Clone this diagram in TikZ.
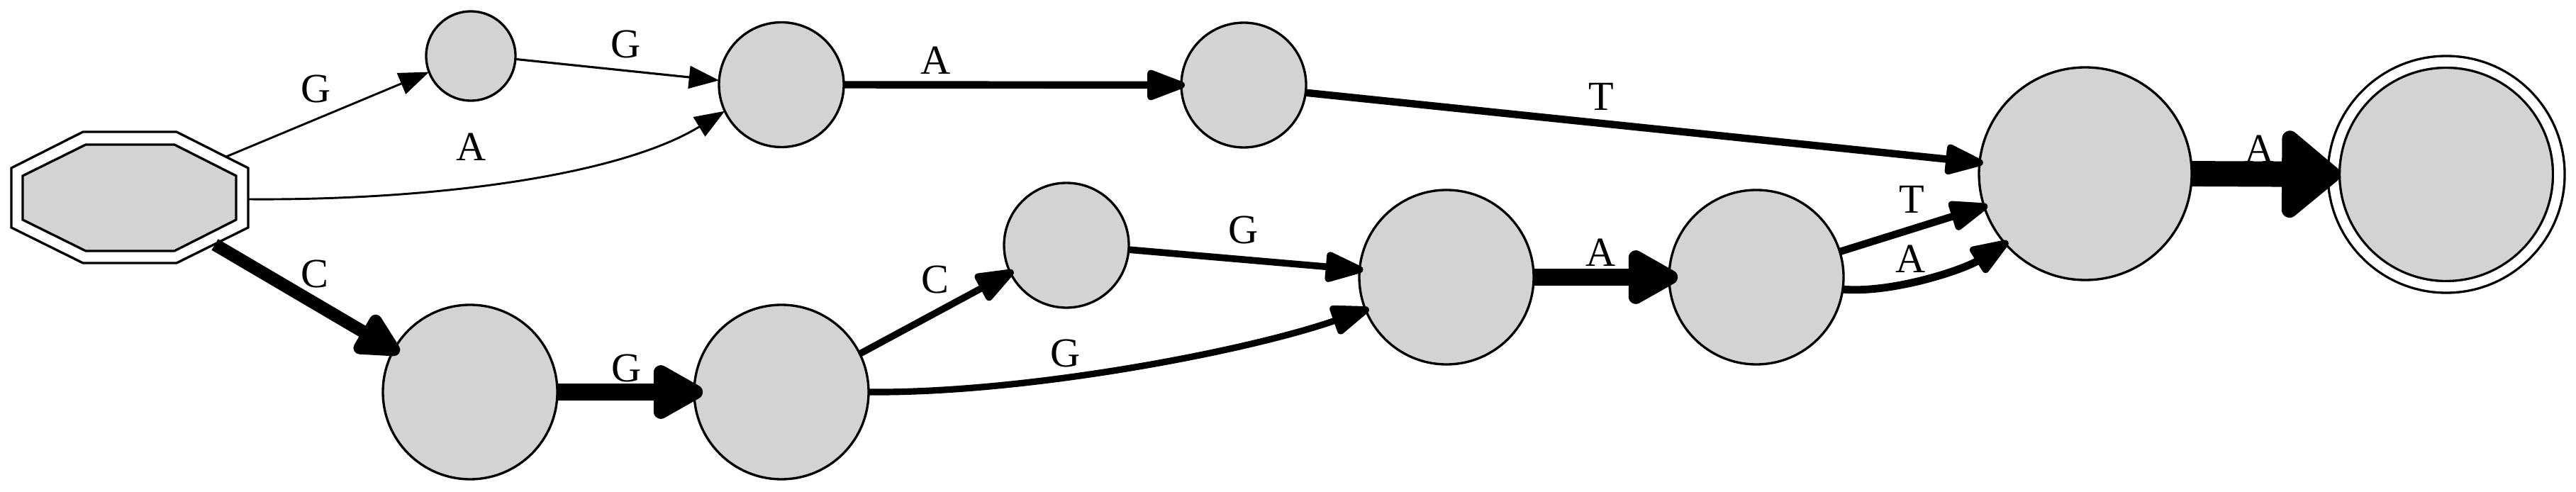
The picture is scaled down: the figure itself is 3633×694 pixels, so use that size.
\documentclass[tikz,border=0pt]{standalone}
\usepackage{fontspec}
\setmainfont{Liberation Serif}
\usetikzlibrary{arrows.meta}
\definecolor{gvgray}{HTML}{D3D3D3}
\begin{document}
\begin{tikzpicture}[x=0.24pt,y=-0.24pt,
  state/.style={circle,draw,fill=gvgray,line width=0.8pt,inner sep=0pt,outer sep=0pt},
  smst/.style={state,minimum size=30.24pt},
  mdst/.style={state,minimum size=42.24pt},
  lgst/.style={state,minimum size=59.04pt},
  xlst/.style={state,minimum size=72pt},
  finalst/.style={state,minimum size=76.2pt,double,double distance=3.16pt,outer sep=2pt},
  octline/.style={line width=0.8pt,line join=miter},
  lbl/.style={inner sep=0pt,outer sep=0pt,font=\fontsize{14}{16}\selectfont},
  ethin/.style={line width=0.7pt,-{Triangle[length=10.2pt,width=7.6pt]}},
  emed/.style={line width=#1,-{Triangle[round,length=15.1pt,width=10.6pt,line width=2.4pt]},shorten >=-1.2pt},
  emed/.default=2.4pt,
  ebig/.style={line width=4.3pt,-{Triangle[round,length=17.5pt,width=16.3pt,line width=4.3pt]},shorten >=-2.15pt},
  ethick/.style={line width=5.8pt,-{Triangle[round,length=19.5pt,width=20.1pt,line width=5.8pt]},shorten >=-2.9pt},
  evthick/.style={line width=8.6pt,-{Triangle[round,length=21.5pt,width=34.1pt,line width=8.6pt]},shorten >=-4.3pt}
]
\useasboundingbox (0,0) rectangle (3633,694);

% start state (double octagon)
\draw[octline] (117,186) -- (249,186) -- (350,237) -- (350,321) -- (249,371) -- (117,371) -- (16,321) -- (16,237) -- cycle;
\draw[octline,fill=gvgray] (121,204) -- (246,204) -- (333,248) -- (333,310) -- (246,354) -- (121,354) -- (32,310) -- (32,248) -- cycle;
\coordinate (s1) at (319,221);
\coordinate (s2) at (350,281);
\coordinate (s3) at (303,345);

% states
\node[smst] (n1) at (664,79) {};
\node[mdst] (n2) at (1102,119.5) {};
\node[mdst] (n3) at (1754,120) {};
\node[xlst] (n4) at (2941,245) {};
\node[finalst] (f) at (3450,246) {};
\node[lgst] (b1) at (663,553) {};
\node[lgst] (b2) at (1102,553) {};
\node[mdst] (b3) at (1504,346) {};
\node[lgst] (b4) at (2040,391) {};
\node[lgst] (b5) at (2477,391) {};

% edges
\draw[ethin] (s1) -- (n1.201);
\draw[ethin,line width=0.75pt] (n1.-4.5) -- (n2.176);
\draw[ethin] (s2) .. controls (600,283) and (870,250) .. (n2.205);
\draw[emed=2.5pt] (n2.east) -- (n3.west);
\draw[emed=2.5pt] (n3.-7) -- (n4.174);
\draw[ebig] (s3) -- (b1.151);
\draw[ethick] (b1.east) -- (b2.west);
\draw[emed=2.3pt] (b2.26) -- (b3.206);
\draw[emed=2.3pt] (b3.-4) -- (b4.175);
\draw[emed=2.2pt] (b2.east) .. controls (1450,555) and (1760,495) .. (b4.202);
\draw[ethick] (b4.east) -- (b5.west);
\draw[emed=2.5pt] (b5.17) -- (n4.198);
\draw[emed=2.6pt] (b5.-8) .. controls (2670,414) and (2770,380) .. (n4.221);
\draw[evthick] (n4.east) -- (f.west);

% labels
\node[lbl] (l1) at (446,125) {G};
\node[lbl] (l2) at (883,62) {G};
\node[lbl] (l3) at (665,207) {A};
\node[lbl] (l4) at (1320,85) {A};
\node[lbl] (l5) at (2258,136) {T};
\node[lbl] (l6) at (444,386) {C};
\node[lbl] (l7) at (884,519) {G};
\node[lbl] (l8) at (1319,394) {C};
\node[lbl] (l9) at (1754,324) {G};
\node[lbl] (l10) at (1503,498) {G};
\node[lbl] (l11) at (2258,356) {A};
\node[lbl] (l12) at (2696,281) {T};
\node[lbl] (l13) at (2695,365) {A};
\node[lbl] (l14) at (3187,210) {A};
\end{tikzpicture}
\end{document}
